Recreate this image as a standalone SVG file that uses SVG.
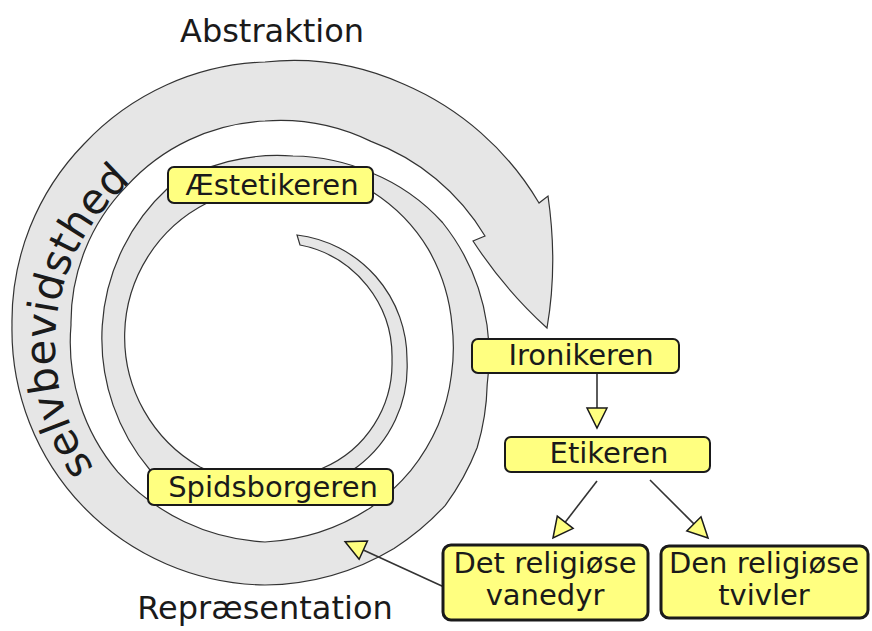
<svg xmlns="http://www.w3.org/2000/svg" width="872" height="631" viewBox="0 0 872 631">
<defs>
<style>
.band{fill:#e6e6e6;stroke:#333;stroke-width:1.2;stroke-linejoin:miter}
.box{fill:#ffff80;stroke:#1a1a1a;stroke-width:2}
.box2{fill:#ffff80;stroke:#1a1a1a;stroke-width:3}
.lbl{font-family:"DejaVu Sans","Liberation Sans",sans-serif;font-size:29px;fill:#1a1a1a;text-anchor:middle}
.big{font-family:"DejaVu Sans","Liberation Sans",sans-serif;font-size:32px;fill:#1a1a1a;text-anchor:middle}
.arc{font-family:"DejaVu Sans","Liberation Sans",sans-serif;font-size:42px;fill:#1a1a1a}
.edge{stroke:#333;stroke-width:1.6;fill:none;marker-end:url(#arr)}
</style>
<marker id="arr" markerUnits="userSpaceOnUse" markerWidth="24" markerHeight="24" viewBox="-2 -12 24 24" refX="0" refY="0" orient="auto" overflow="visible">
<path d="M0,-10 L20,0 L0,10 Z" fill="#ffff80" stroke="#1a1a1a" stroke-width="1.5"/>
</marker>
<path id="tp" d="M 94.2,468.1 A 213 213 0 0 1 155.1,164.4"/>
</defs>

<path class="band" d="M 297,235
A 125 125 0 0 1 407,360
A 125 125 0 0 1 357,467
A 180 180 0 0 1 150,470
A 204 204 0 0 1 168,188
A 200 200 0 0 1 293,156
A 200 200 0 0 1 372,173
A 196 196 0 0 1 442.5,222.5
A 214 214 0 0 1 487,325
A 226 226 0 0 1 487.2,384.5
A 238 238 0 0 1 477.2,447.5
A 250 250 0 0 1 445.3,505.3
A 257 257 0 0 1 394,548.4
A 259 259 0 0 1 265,585
A 258 258 0 0 1 83.3,506.7
A 255 255 0 0 1 12,325
A 254 254 0 0 1 84,144
A 260 260 0 0 1 265,62
A 270 270 0 0 1 404,84.3
A 289 289 0 0 1 539,203
L 548,196
Q 558,265 547,328
Q 505,290 473,241
L 485,236
A 223 223 0 0 0 371,141.4
A 208 208 0 0 0 265,121
A 200 200 0 0 0 126.4,186.4
A 195 195 0 0 0 71,325
A 201 201 0 0 0 117.9,472.1
A 212 212 0 0 0 265,542
A 214 214 0 0 0 370.5,507.7
A 208 208 0 0 0 410.7,470.7
A 203 203 0 0 0 438.2,425
A 196 196 0 0 0 451.4,375
A 190 190 0 0 0 452,325
A 183 183 0 0 0 428.1,248.9
A 175 175 0 0 0 372.6,192.1
A 165 165 0 0 0 207,203
A 150 150 0 0 0 200,467
A 140 140 0 0 0 323,468
A 114 114 0 0 0 392,360
A 114 114 0 0 0 300,245 Z"/>

<text class="arc"><textPath href="#tp">selvbevidsthed</textPath></text>
<text class="big" x="272" y="42">Abstraktion</text>
<text class="big" x="265" y="619">Repræsentation</text>

<g id="connectors">
<path class="edge" d="M 597,373 L 597,408"/>
<path class="edge" d="M 597,481 L 565.2,522.2"/>
<path class="edge" d="M 650,480 L 693.9,523.9"/>
<path class="edge" d="M 443,586.4 L 363.3,550.1"/>
</g>

<g id="aestetikeren">
<rect class="box" x="168" y="167" width="205" height="36" rx="6"/>
<text class="lbl" x="272" y="195">Æstetikeren</text>
</g>
<g id="spidsborgeren">
<rect class="box" x="148" y="469" width="245" height="36" rx="6"/>
<text class="lbl" x="273" y="497">Spidsborgeren</text>
</g>
<g id="ironikeren">
<rect class="box" x="472" y="339" width="207" height="34" rx="6"/>
<text class="lbl" x="581" y="365">Ironikeren</text>
</g>
<g id="etikeren">
<rect class="box" x="505" y="437" width="205" height="35" rx="6"/>
<text class="lbl" x="609" y="463">Etikeren</text>
</g>
<g id="det-religioese">
<rect class="box2" x="443" y="545" width="205" height="75" rx="8"/>
<text class="lbl" x="545" y="573">Det religiøse</text>
<text class="lbl" x="545" y="605">vanedyr</text>
</g>
<g id="den-religioese">
<rect class="box2" x="661" y="546" width="207" height="72" rx="8"/>
<text class="lbl" x="764" y="573">Den religiøse</text>
<text class="lbl" x="764" y="605">tvivler</text>
</g>
</svg>
